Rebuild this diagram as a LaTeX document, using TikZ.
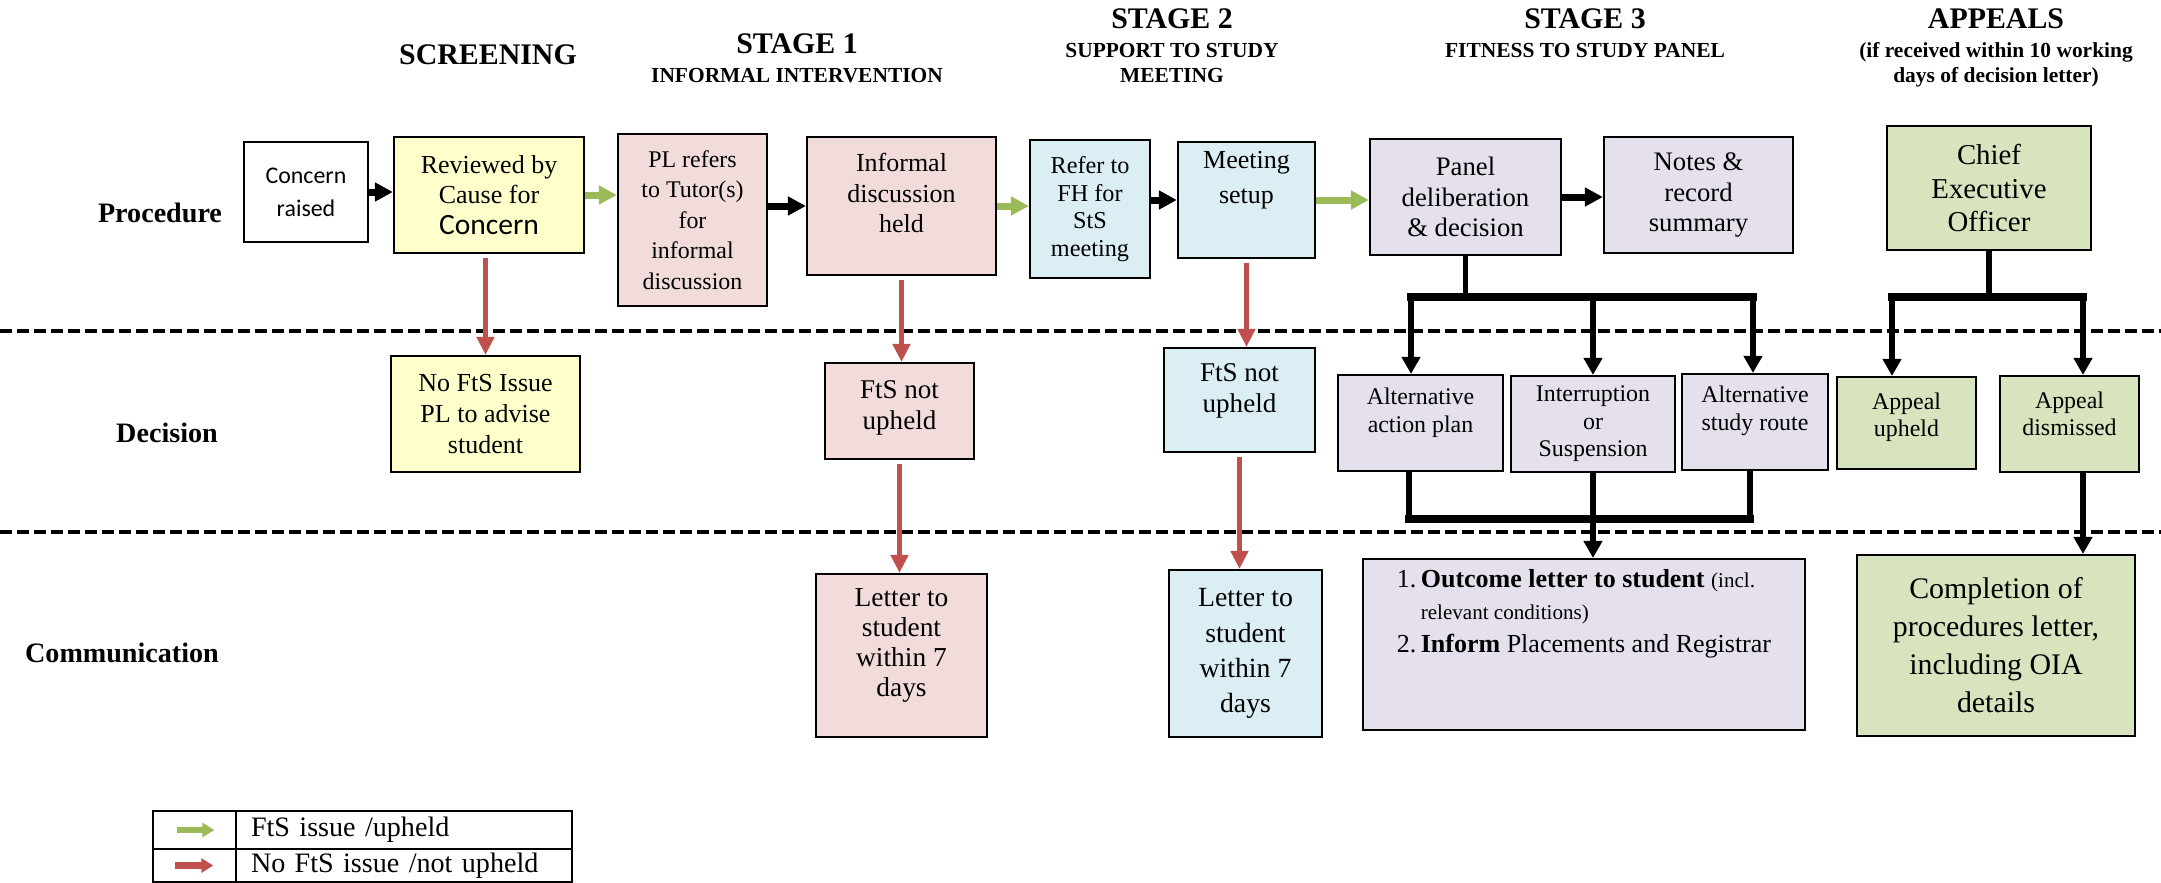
\documentclass[tikz,border=0pt]{standalone}
\usepackage{fontspec}
\setmainfont{Liberation Serif}
\newfontfamily\calibrifont{Carlito}
\usetikzlibrary{arrows.meta}

\definecolor{cfcyellow}{HTML}{FFFFCC}
\definecolor{stageonepink}{HTML}{F2DCDB}
\definecolor{stagetwoblue}{HTML}{DBEEF3}
\definecolor{stagethreelilac}{HTML}{E5E0EC}
\definecolor{appealgreen}{HTML}{D7E4BD}
\definecolor{upheldgreen}{HTML}{9BBB59}
\definecolor{notupheldred}{HTML}{C0504D}

\begin{document}
\begin{tikzpicture}[
				box/.style={
					rectangle,
					draw,
					line width=0.6pt,
					align=center,
					inner sep=1pt,
					font=\fontsize{7.4}{8.7}\selectfont
				},
				smallbox/.style={
					box,
					font=\fontsize{6.8}{7.8}\selectfont
				},
				heading/.style={anchor=base, font=\bfseries\fontsize{8.5}{10}\selectfont},
				subheading/.style={anchor=base, font=\bfseries\fontsize{6.1}{7}\selectfont},
				rowlabel/.style={anchor=base, font=\bfseries\fontsize{8}{9.5}\selectfont},
				rowline/.style={dash pattern=on 0.12cm off 0.05cm, line width=0.04cm},
				flow/.style={-{Triangle[length=0.18cm,width=0.18cm]}, line width=0.07cm},
				flowyes/.style={flow, upheldgreen},
				flowno/.style={-{Triangle[length=0.18cm,width=0.17cm]}, line width=0.055cm,
					notupheldred, shorten <=0.04cm},
				branch/.style={line width=0.055cm},
				branchbar/.style={line width=0.075cm, line cap=rect},
				branchto/.style={-{Triangle[length=0.17cm,width=0.18cm]}, line width=0.055cm},
				keycell/.style={rectangle, draw, line width=0.75pt, minimum height=0.38cm, inner sep=0pt},
				keyyes/.style={-{Triangle[length=0.12cm,width=0.14cm]}, line width=0.065cm, upheldgreen},
				keyno/.style={-{Triangle[length=0.12cm,width=0.14cm]}, line width=0.065cm, notupheldred}
				]
				
				\useasboundingbox (0,0) rectangle (21.61,-8.83);
				
				% -------------------------------------------------------------------------
				% Column headings and row labels
				% -------------------------------------------------------------------------
				
				\node[heading] (hscreen) at (4.88,-0.64) {SCREENING};
				
				\node[heading] (hstageone) at (7.97,-0.53) {STAGE 1};
				\node[subheading] (hstageonesub) at (7.97,-0.82) {INFORMAL INTERVENTION};
				
				\node[heading] (hstagetwo) at (11.72,-0.28) {STAGE 2};
				\node[subheading] (hstagetwosub) at (11.72,-0.57) {SUPPORT TO STUDY};
				\node[subheading] (hstagetwosubb) at (11.72,-0.82) {MEETING};
				
				\node[heading] (hstagethree) at (15.85,-0.28) {STAGE 3};
				\node[subheading] (hstagethreesub) at (15.85,-0.57) {FITNESS TO STUDY PANEL};
				
				\node[heading] (happeals) at (19.96,-0.28) {APPEALS};
				\node[subheading] (happealssub) at (19.96,-0.57) {(if received within 10 working};
				\node[subheading] (happealssubb) at (19.96,-0.82) {days of decision letter)};
				
				\node[rowlabel] (lprocedure) at (1.60,-2.22) {Procedure};
				\node[rowlabel] (ldecision) at (1.67,-4.42) {Decision};
				\node[rowlabel] (lcommunication) at (1.22,-6.62) {Communication};
				
				\draw[rowline] (0,-3.31) -- (21.61,-3.31);
				\draw[rowline] (0,-5.32) -- (21.61,-5.32);
				
				% -------------------------------------------------------------------------
				% Procedure row
				% -------------------------------------------------------------------------
				
				\node[box,fill=white,minimum width=1.24cm,minimum height=1.00cm,
				font=\calibrifont\fontsize{6.8}{9.4}\selectfont] (concern) at (3.06,-1.92)
				{Concern\\raised};
				
				\node[box,fill=cfcyellow,minimum width=1.90cm,minimum height=1.16cm] (review) at (4.89,-1.95)
				{Reviewed by\\Cause for\\{\calibrifont\fontsize{8.4}{8.7}\selectfont Concern}};
				
				\node[box,fill=stageonepink,minimum width=1.49cm,minimum height=1.72cm,
				font=\fontsize{6.8}{8.7}\selectfont] (plrefer) at (6.925,-2.20)
				{PL refers\\to Tutor(s)\\for\\informal\\discussion};
				
				\node[box,fill=stageonepink,minimum width=1.89cm,minimum height=1.38cm] (informal) at (9.015,-2.06)
				{Informal\\discussion\\held\\[-1.3pt]\mbox{}};
				
				\node[box,fill=stagetwoblue,minimum width=1.20cm,minimum height=1.38cm,
				font=\fontsize{6.9}{7.8}\selectfont] (referfh) at (10.90,-2.09)
				{Refer to\\FH for\\StS\\meeting};
				
				\node[box,fill=stagetwoblue,minimum width=1.37cm,minimum height=1.16cm,
				font=\fontsize{7.4}{10}\selectfont] (meeting) at (12.465,-2.00)
				{Meeting\\setup\\[3pt]\mbox{}};
				
				\node[box,fill=stagethreelilac,minimum width=1.91cm,minimum height=1.16cm,
				font=\fontsize{7.6}{8.7}\selectfont] (panel) at (14.655,-1.97)
				{Panel\\deliberation\\\& decision};
				
				\node[box,fill=stagethreelilac,minimum width=1.89cm,minimum height=1.16cm,
				font=\fontsize{7.6}{8.7}\selectfont] (notes) at (16.985,-1.95)
				{Notes \&\\record\\summary};
				
				\node[box,fill=appealgreen,minimum width=2.04cm,minimum height=1.24cm,
				font=\fontsize{8.2}{9.5}\selectfont] (ceo) at (19.89,-1.88)
				{Chief\\Executive\\Officer};
				
				% -------------------------------------------------------------------------
				% Decision row
				% -------------------------------------------------------------------------
				
				\node[box,fill=cfcyellow,minimum width=1.89cm,minimum height=1.16cm] (nofts) at (4.855,-4.14)
				{No FtS Issue\\PL to advise\\student};
				
				\node[box,fill=stageonepink,minimum width=1.49cm,minimum height=0.96cm,
				font=\fontsize{7.7}{8.7}\selectfont] (notupone) at (8.995,-4.11)
				{FtS not\\upheld\\[-5.3pt]\mbox{}};
				
				\node[box,fill=stagetwoblue,minimum width=1.51cm,minimum height=1.04cm,
				font=\fontsize{7.7}{8.7}\selectfont] (notuptwo) at (12.395,-4.00)
				{FtS not\\upheld\\[-1.9pt]\mbox{}};
				
				\node[smallbox,fill=stagethreelilac,minimum width=1.65cm,minimum height=0.96cm] (altplan) at (14.205,-4.23)
				{Alternative\\action plan\\[-0.6pt]\mbox{}};
				
				\node[smallbox,fill=stagethreelilac,minimum width=1.64cm,minimum height=0.96cm] (interrupt) at (15.93,-4.24)
				{Interruption\\or\\Suspension};
				
				\node[smallbox,fill=stagethreelilac,minimum width=1.46cm,minimum height=0.96cm] (altroute) at (17.55,-4.22)
				{Alternative\\study route\\[0pt]\mbox{}};
				
				\node[smallbox,fill=appealgreen,minimum width=1.39cm,minimum height=0.92cm] (appup) at (19.065,-4.23)
				{Appeal\\upheld\\[-3.2pt]\mbox{}};
				
				\node[smallbox,fill=appealgreen,minimum width=1.39cm,minimum height=0.96cm] (appdis) at (20.695,-4.24)
				{Appeal\\dismissed\\[-2.1pt]\mbox{}};
				
				% -------------------------------------------------------------------------
				% Communication row
				% -------------------------------------------------------------------------
				
				\node[box,fill=stageonepink,minimum width=1.71cm,minimum height=1.63cm,
				font=\fontsize{7.8}{8.6}\selectfont] (letterone) at (9.015,-6.555)
				{Letter to\\student\\within 7\\days\\[-1.3pt]\mbox{}};
				
				\node[box,fill=stagetwoblue,minimum width=1.53cm,minimum height=1.67cm,
				font=\fontsize{7.9}{10}\selectfont] (lettertwo) at (12.455,-6.535)
				{Letter to\\student\\within 7\\days};
				
				\node[box,fill=stagethreelilac,minimum width=4.42cm,minimum height=1.71cm,align=left,
				font=\fontsize{7.4}{9.3}\selectfont] (outcome) at (15.84,-6.445)
				{\makebox[6.8pt][l]{1.}\textbf{Outcome letter to student} {\fontsize{6}{9.3}\selectfont(incl.}\\
					\hspace*{6.8pt}{\fontsize{6}{9.3}\selectfont relevant conditions)}\\
					\makebox[6.8pt][l]{2.}\textbf{Inform} Placements and Registrar\\[9.9pt]\mbox{}};
				
				\node[box,fill=appealgreen,minimum width=2.78cm,minimum height=1.81cm,
				font=\fontsize{8.5}{10.8}\selectfont] (completion) at (19.96,-6.455)
				{Completion of\\procedures letter,\\including OIA\\details};
				
				% -------------------------------------------------------------------------
				% Procedure arrows
				% -------------------------------------------------------------------------
				
				\draw[flow] (concern.east) -- (concern.east -| review.west);
				\draw[flowyes] (review.east) -- (review.east -| plrefer.west);
				\draw[flow] (plrefer.east |- informal.west) -- (informal.west);
				\draw[flowyes] (informal.east) -- (informal.east -| referfh.west);
				\draw[flow] (referfh.east |- meeting.west) -- (meeting.west);
				\draw[flowyes] (meeting.east) -- (meeting.east -| panel.west);
				\draw[flow] (panel.east) -- (panel.east -| notes.west);
				
				% -------------------------------------------------------------------------
				% Not upheld arrows
				% -------------------------------------------------------------------------
				
				\draw[flowno] (nofts.north |- review.south) -- (nofts.north);
				\draw[flowno] (informal.south) -- (informal.south |- notupone.north);
				\draw[flowno] (notupone.south) -- (notupone.south |- letterone.north);
				\draw[flowno] (meeting.south) -- (meeting.south |- notuptwo.north);
				\draw[flowno] (notuptwo.south) -- (notuptwo.south |- lettertwo.north);
				
				% -------------------------------------------------------------------------
				% Panel and appeal branches
				% -------------------------------------------------------------------------
				
				\coordinate (panelbarL) at (14.11,-2.97);
				\coordinate (panelbarR) at (17.53,-2.97);
				\coordinate (ceobarL) at (18.92,-2.97);
				\coordinate (ceobarR) at (20.83,-2.97);
				\coordinate (outbarL) at (14.09,-5.19);
				\coordinate (outbarR) at (17.50,-5.19);
				
				\draw[branch] (panel.south) -- (panel.south |- panelbarL);
				\draw[branchbar] (panelbarL) -- (panelbarR);
				\draw[branchto] (panelbarL) -- (panelbarL |- altplan.north);
				\draw[branchto] (interrupt.north |- panelbarL) -- (interrupt.north);
				\draw[branchto] (panelbarR) -- (panelbarR |- altroute.north);
				
				\draw[branch] (ceo.south) -- (ceo.south |- ceobarL);
				\draw[branchbar] (ceobarL) -- (ceobarR);
				\draw[branchto] (ceobarL) -- (ceobarL |- appup.north);
				\draw[branchto] (ceobarR) -- (ceobarR |- appdis.north);
				
				\draw[branch] (altplan.south -| outbarL) -- (outbarL);
				\draw[branch] (interrupt.south) -- (interrupt.south |- outbarL);
				\draw[branch] (altroute.south -| outbarR) -- (outbarR);
				\draw[branchbar] (outbarL) -- (outbarR);
				\draw[branchto] (interrupt.south |- outbarL) -- (interrupt.south |- outcome.north);
				
				\draw[branchto] (appdis.south -| ceobarR) -- (completion.north -| ceobarR);
				
				% -------------------------------------------------------------------------
				% Arrow key
				% -------------------------------------------------------------------------
				
				\node[keycell,minimum width=0.83cm] (keyupsym) at (1.945,-8.30) {};
				\node[keycell,minimum width=3.36cm,text width=3.06cm,align=left,inner xsep=0.15cm,
				font=\fontsize{8}{9}\selectfont] (keyup) at (4.04,-8.30) {FtS issue /upheld};
				\node[keycell,minimum width=0.83cm,minimum height=0.33cm] (keynotsym) at (1.945,-8.655) {};
				\node[keycell,minimum width=3.36cm,minimum height=0.33cm,text width=3.06cm,align=left,inner xsep=0.15cm,
				font=\fontsize{8}{9}\selectfont] (keynot) at (4.04,-8.655) {No FtS issue /not upheld};
				
				\draw[keyyes] ([xshift=0.25cm]keyupsym.west) -- ([xshift=-0.23cm]keyupsym.east);
				\draw[keyno] ([xshift=0.23cm]keynotsym.west) -- ([xshift=-0.24cm]keynotsym.east);
				
\end{tikzpicture}
\end{document}
